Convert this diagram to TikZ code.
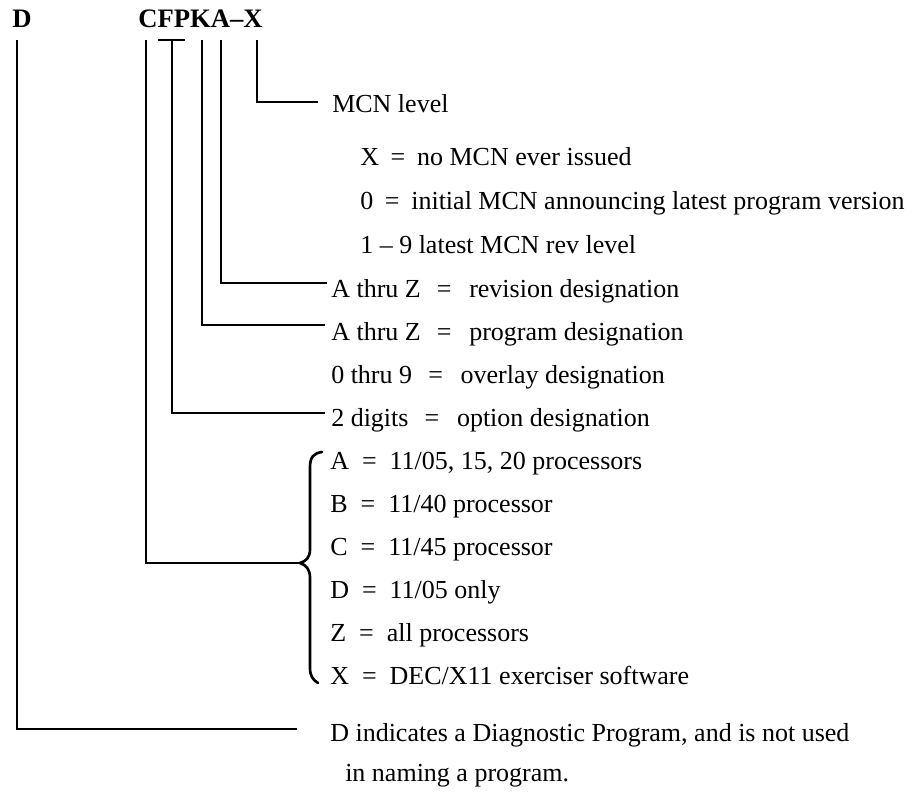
\documentclass[tikz,border=0pt]{standalone}
\usepackage{fontspec}
\setmainfont{Liberation Serif}
\newcommand\eqDes{\hspace{0.62em}=\hspace{0.68em}}
\newcommand\eqPro{\hspace{0.5em}=\hspace{0.5em}}
\newcommand\eqMcn{\hspace{0.45em}=\hspace{0.45em}}
\begin{document}
\begin{tikzpicture}[x=0.75pt,y=-0.75pt,
  lbl/.style={anchor=base west, inner sep=0pt, font=\fontsize{19.5}{23}\selectfont},
  hdr/.style={anchor=base west, inner sep=0pt, font=\fontsize{20}{24}\selectfont\bfseries},
  conn/.style={line width=2pt, line join=miter, line cap=butt}]
\useasboundingbox (0,0) rectangle (917,792);

% header letters
\node[hdr] (hD) at (12,28) {D};
\node[hdr] (hC) at (138,28) {CFPKA--X};

% connector top ends
\coordinate (tD) at (17,40);
\coordinate (tC) at (146,40);
\coordinate (tF) at (158,40);
\coordinate (tP) at (185,40);
\coordinate (tFP) at (172,40);
\coordinate (tK) at (202,40);
\coordinate (tA) at (221,40);
\coordinate (tX) at (257,40);

% connector free ends
\coordinate (eX) at (318,102);
\coordinate (eA) at (327,283);
\coordinate (eK) at (325,325);
\coordinate (eFP) at (325,413);
\coordinate (btip) at (300,563);
\coordinate (eD) at (297,729);

% texts
\node[lbl] (mcn) at (332,113) {MCN level};
\node[lbl] (mx) at (360,165) {X\eqMcn no MCN ever issued};
\node[lbl] (m0) at (360,209) {0\eqMcn initial MCN announcing latest program version};
\node[lbl] (m19) at (360,253) {1 -- 9 latest MCN rev level};
\node[lbl] (rev) at (331,297) {A thru Z\eqDes revision designation};
\node[lbl] (prog) at (331,340) {A thru Z\eqDes program designation};
\node[lbl] (ovl) at (331,383) {0 thru 9\eqDes overlay designation};
\node[lbl] (opt) at (331,426) {2 digits\eqDes option designation};
\node[lbl] (pA) at (330,469) {A\eqPro 11/05, 15, 20 processors};
\node[lbl] (pB) at (330,512) {B\eqPro 11/40 processor};
\node[lbl] (pC) at (330,555) {C\eqPro 11/45 processor};
\node[lbl] (pD) at (330,598) {D\eqPro 11/05 only};
\node[lbl] (pZ) at (330,641) {Z\eqPro all processors};
\node[lbl] (pX) at (330,684) {X\eqPro DEC/X11 exerciser software};
\node[lbl] (dg) at (330,741) {D indicates a Diagnostic Program, and is not used};
\node[lbl] (dg2) at (345,781) {in naming a program.};

% connectors
\draw[conn] (tX) |- (eX);
\draw[conn] (tA) |- (eA);
\draw[conn] (tK) |- (eK);
\draw[conn] (tF) -- (tP);
\draw[conn] (tFP) |- (eFP);
\draw[conn] (tC) |- (btip);
\draw[conn] (tD) |- (eD);

% brace
\draw[conn, line cap=round] (322,452) .. controls (314,453) and (310,457) .. (310,467)
  -- (310,549) .. controls (310,558) and (306,561) .. (btip)
  .. controls (306,565) and (310,569) .. (310,578)
  -- (310,668) .. controls (310,676) and (313,680) .. (318,683);
\end{tikzpicture}
\end{document}
